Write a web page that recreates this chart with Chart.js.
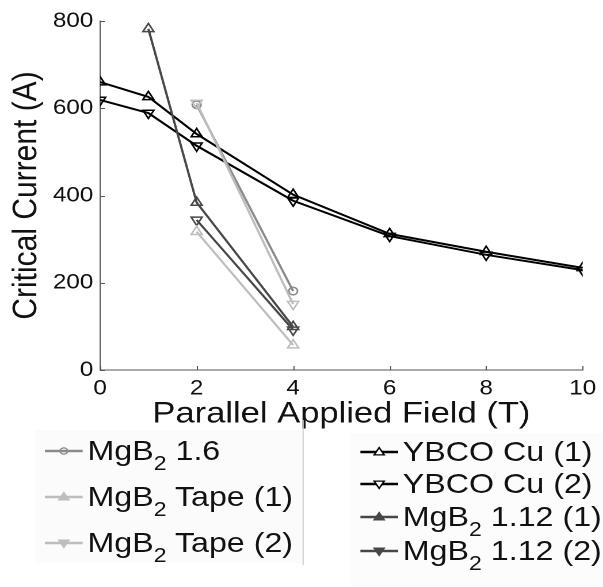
<!DOCTYPE html>
<html>
<head>
<meta charset="utf-8">
<script src="https://cdn.jsdelivr.net/npm/chart.js@4.4.1/dist/chart.umd.min.js"></script>
<style>
  html, body { margin:0; padding:0; background:#fff; overflow:hidden; }
  #wrap { position:absolute; left:0; top:0; width:524px; height:587px; transform:scaleX(1.1508); transform-origin:0 0; }
  #c { position:absolute; left:0; top:0; }
  .lbox { position:absolute; }
  .row { position:absolute; height:40px; display:flex; align-items:center; font-family:"Liberation Sans", Arial, sans-serif; font-size:28px; color:#111; white-space:nowrap; }
  .row svg { margin-right:4px; flex:none; }
  .row sub { font-size:20px; vertical-align:-10px; line-height:0; }
</style>
</head>
<body>
<div id="wrap">
  <canvas id="c" width="524" height="587"></canvas>
  <div id="legL" class="lbox" style="left:30px;top:430px;width:233px;height:133px;background:#fbfbfb;"></div>
  <div class="lbox" style="left:263px;top:420px;width:1px;height:145px;background:#cccccc;"></div>
  <div id="legR" class="lbox" style="left:304px;top:433px;width:220px;height:154px;background:#fcfcfc;"></div>
</div>
<script>
// ---- data ----
const fieldYBCO   = [0, 1, 2, 4, 6, 8, 10];
const ybcoCu1     = [660, 626, 541, 402, 312, 271, 234];
const ybcoCu2     = [619, 589, 514, 388, 307, 264, 229];
const field112a   = [1, 2, 4];
const mgb112a     = [782, 384, 99];
const fieldShort  = [2, 4];
const mgb112b     = [344, 92];
const mgbTape1    = [317, 57];
const mgbTape2    = [612, 151];
const mgb16       = [608, 181];
const xTickValues = [0, 2, 4, 6, 8, 10];
const yTickValues = [0, 200, 400, 600, 800];
const seriesNames = ["MgB_2 1.6", "MgB_2 Tape (1)", "MgB_2 Tape (2)", "YBCO Cu (1)", "YBCO Cu (2)", "MgB_2 1.12 (1)", "MgB_2 1.12 (2)"];

const pts = (xs, ys) => xs.map((x, i) => ({x: x, y: ys[i]}));

const BLACK = '#000000', DARK = '#474747', MID = '#8a8a8a', LIGHT = '#bdbdbd';
const T = 'rgba(0,0,0,0)';

function ds(label, data, color, style, rot, radius) {
  return {
    label: label, data: data, borderColor: color, backgroundColor: T,
    borderWidth: 2, pointStyle: style, pointRotation: rot, pointRadius: radius,
    pointBorderColor: color, pointBackgroundColor: T, pointBorderWidth: 1.5,
    tension: 0, fill: false
  };
}

const datasets = [
  ds(seriesNames[2].replace('_', ''), pts(fieldShort, mgbTape2), LIGHT, 'triangle', 180, 5.5),
  ds(seriesNames[1].replace('_', ''), pts(fieldShort, mgbTape1), LIGHT, 'triangle', 0, 5.5),
  ds(seriesNames[0].replace('_', ''), pts(fieldShort, mgb16), MID, 'circle', 0, 3.8),
  ds(seriesNames[6].replace('_', ''), pts(fieldShort, mgb112b), DARK, 'triangle', 180, 5.5),
  ds(seriesNames[5].replace('_', ''), pts(field112a, mgb112a), DARK, 'triangle', 0, 5.5),
  ds(seriesNames[4], pts(fieldYBCO, ybcoCu2), BLACK, 'triangle', 180, 5.5),
  ds(seriesNames[3], pts(fieldYBCO, ybcoCu1), BLACK, 'triangle', 0, 5.5)
];

const inwardTicks = {
  id: 'inwardTicks',
  afterDraw(chart) {
    const ctx = chart.ctx, xs = chart.scales.x, ys = chart.scales.y, a = chart.chartArea;
    ctx.save();
    ctx.strokeStyle = '#555';
    ctx.lineWidth = 1;
    ctx.beginPath();
    xTickValues.forEach(v => { const px = Math.round(xs.getPixelForValue(v)) + 0.5; ctx.moveTo(px, a.bottom); ctx.lineTo(px, a.bottom - 4); });
    yTickValues.forEach(v => { const py = Math.round(ys.getPixelForValue(v)) + 0.5; ctx.moveTo(a.left, py); ctx.lineTo(a.left + 4, py); });
    ctx.stroke();
    ctx.restore();
  }
};

const FONT = "'Liberation Sans', Arial, sans-serif";

new Chart(document.getElementById('c'), {
  type: 'line',
  data: { datasets: datasets },
  options: {
    responsive: false,
    animation: false,
    devicePixelRatio: 2,
    layout: { padding: { left: 0, right: 14, top: 21, bottom: 158 } },
    plugins: { legend: { display: false }, tooltip: { enabled: false } },
    scales: {
      x: {
        type: 'linear', min: 0, max: 10,
        afterBuildTicks: s => { s.ticks = xTickValues.map(v => ({value: v})); },
        afterFit: s => { s.height = 59; },
        grid: { display: true, drawOnChartArea: false, drawTicks: false },
        border: { display: true, color: '#555', width: 1 },
        ticks: { color: '#111', font: { family: FONT, size: 21 }, padding: 6, maxRotation: 0 },
        title: { display: true, text: 'Parallel Applied Field (T)', color: '#111', font: { family: FONT, size: 30, lineHeight: 1 }, padding: { top: 0, bottom: 0 } }
      },
      y: {
        type: 'linear', min: 0, max: 800,
        afterBuildTicks: s => { s.ticks = yTickValues.map(v => ({value: v})); },
        afterFit: s => { s.width = 87; },
        grid: { display: true, drawOnChartArea: false, drawTicks: false },
        border: { display: true, color: '#555', width: 1 },
        ticks: { color: '#111', font: { family: FONT, size: 21 }, padding: 6 },
        title: { display: true, text: 'Critical Current (A)', color: '#111', font: { family: FONT, size: 30, lineHeight: 1 }, padding: { top: 8, bottom: 0 } }
      }
    }
  },
  plugins: [inwardTicks]
});

// ---- HTML legends ----
function icon(color, shape) {
  let m = '';
  if (shape === 'circle') m = `<circle cx="17" cy="10" r="3.2" fill="none" stroke="${color}" stroke-width="1.5"/>`;
  else if (shape === 'up') m = `<polygon points="17,5.5 21.5,13 12.5,13" fill="${color === BLACK ? '#fff' : color}" stroke="${color}" stroke-width="1.4"/>`;
  else m = `<polygon points="17,14.5 21.5,7 12.5,7" fill="${color === BLACK ? '#fff' : color}" stroke="${color}" stroke-width="1.4"/>`;
  return `<svg width="33" height="20" viewBox="0 0 34 20"><line x1="0" y1="10" x2="34" y2="10" stroke="${color}" stroke-width="2.5"/>${m}</svg>`;
}
const fmt = s => s.replace('_2', '<sub>2</sub>');
const leftItems = [
  [seriesNames[0], MID, 'circle', 451],
  [seriesNames[1], LIGHT, 'up', 497],
  [seriesNames[2], LIGHT, 'down', 543]
];
const rightItems = [
  [seriesNames[3], BLACK, 'up', 452],
  [seriesNames[4], BLACK, 'down', 484],
  [seriesNames[5], DARK, 'up', 517],
  [seriesNames[6], DARK, 'down', 551]
];
const wrap = document.getElementById('wrap');
function addRow(item, left) {
  const d = document.createElement('div');
  d.className = 'row';
  d.style.left = left + 'px';
  d.style.top = (item[3] - 20) + 'px';
  d.innerHTML = icon(item[1], item[2]) + '<span>' + fmt(item[0]) + '</span>';
  wrap.appendChild(d);
}
leftItems.forEach(it => addRow(it, 39));
rightItems.forEach(it => addRow(it, 313));
</script>
</body>
</html>
